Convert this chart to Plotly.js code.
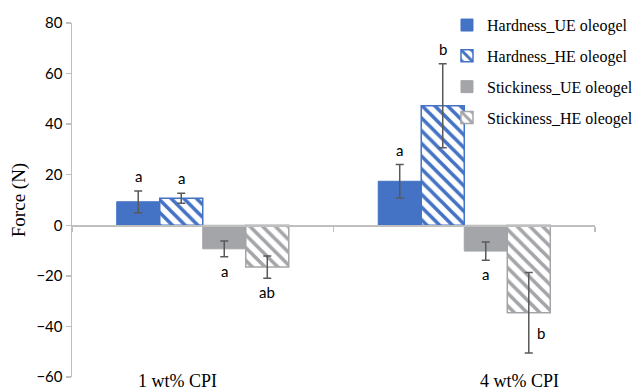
<!DOCTYPE html>
<html>
<head>
<meta charset="utf-8">
<script src="https://cdn.plot.ly/plotly-3.0.1.min.js"></script>
<style>html,body{margin:0;padding:0;background:#fff}#chart{width:638px;height:392px}</style>
</head>
<body>
<div id="chart"></div>
<script>
var categories = ["1 wt% CPI", "4 wt% CPI"];
var seriesNames = ["Hardness_UE oleogel", "Hardness_HE oleogel", "Stickiness_UE oleogel", "Stickiness_HE oleogel"];
var hardnessUE = [9.3, 17.4];
var hardnessUEErr = [4.3, 6.6];
var hardnessHE = [10.7, 47.3];
var hardnessHEErr = [2.0, 16.6];
var stickinessUE = [-9.3, -10.2];
var stickinessUEErr = [3.1, 3.6];
var stickinessHE = [-16.5, -34.6];
var stickinessHEErr = [4.4, 15.9];
var letters = [["a", "a"], ["a", "b"], ["a", "a"], ["ab", "b"]];
var yTickVals = [-60, -40, -20, 0, 20, 40, 60, 80];

var values = [hardnessUE, hardnessHE, stickinessUE, stickinessHE];
var errs = [hardnessUEErr, hardnessHEErr, stickinessUEErr, stickinessHEErr];
var blue = "#4472c4", gray = "#a3a5a8", errColor = "#595959";
var styles = [
  {color: blue, line: {color: blue, width: 1}},
  {color: "#ffffff", line: {color: blue, width: 1.5}, pattern: {shape: "\\", fgcolor: blue, bgcolor: "#ffffff", size: 9, solidity: 0.4, fillmode: "replace"}},
  {color: gray, line: {color: gray, width: 1}},
  {color: "#ffffff", line: {color: gray, width: 1.5}, pattern: {shape: "\\", fgcolor: gray, bgcolor: "#ffffff", size: 9, solidity: 0.4, fillmode: "replace"}}
];

var traces = seriesNames.map(function(n, i) {
  return {
    type: "bar", name: n, x: categories, y: values[i],
    marker: styles[i], legendgroup: "g" + i,
    error_y: {type: "data", array: errs[i], visible: true, color: errColor, thickness: 1.5, width: 4}
  };
});

var nS = seriesNames.length;
var bargap = 0.342;
var annotations = [];
seriesNames.forEach(function(n, i) {
  categories.forEach(function(c, j) {
    var v = values[i][j], e = errs[i][j];
    var off = (i - (nS - 1) / 2) * (1 - bargap) / nS;
    var pos = v >= 0;
    var side = (i === 3 && j === 1);
    annotations.push({
      xref: "x", yref: "y", x: j + off, y: side ? v - e * 0.5 : (pos ? v + e : v - e),
      text: letters[i][j], showarrow: false,
      xshift: side ? 12 : 0,
      yanchor: side ? "middle" : (pos ? "bottom" : "top"),
      yshift: side ? 0 : (pos ? 4 : -3),
      font: {family: "Lato, 'Liberation Sans', sans-serif", size: 15, color: "#000"}
    });
  });
});
var labelShift = [-25, 55];
categories.forEach(function(c, j) {
  annotations.push({
    xref: "x", yref: "paper", x: j, y: -15 / 354, yanchor: "bottom", yshift: 0, borderpad: 0,
    xshift: labelShift[j], text: c, showarrow: false,
    font: {family: "'Liberation Serif', serif", size: 18, color: "#000"}
  });
});

var layout = {
  width: 638, height: 392,
  margin: {l: 72, r: 43, t: 23, b: 15, autoexpand: false},
  paper_bgcolor: "#fff", plot_bgcolor: "#fff",
  barmode: "group", bargap: bargap, bargroupgap: 0,
  showlegend: true,
  legend: {x: 0.717, y: 1.042, xanchor: "left", yanchor: "top", bgcolor: "rgba(0,0,0,0)",
    traceorder: "grouped", tracegroupgap: 7, itemwidth: 30,
    font: {family: "'Liberation Serif', serif", size: 16, color: "#000"}},
  xaxis: {type: "category", anchor: "free", position: 60 / 140, showline: true, linecolor: "#bfbfbf", linewidth: 1.5,
    ticks: "outside", tickson: "boundaries", ticklen: 5, tickcolor: "#bfbfbf", tickwidth: 1.5,
    showticklabels: false, showgrid: false, zeroline: false, range: [-0.5, 1.5], automargin: false},
  yaxis: {range: [-60, 80], tickvals: yTickVals, showgrid: false, zeroline: false, automargin: false,
    showline: true, linecolor: "#bfbfbf", linewidth: 1.5, ticks: "outside", ticklen: 5, tickcolor: "#bfbfbf", tickwidth: 1.5,
    tickfont: {family: "Lato, 'Liberation Sans', sans-serif", size: 15, color: "#000"},
    title: {text: "Force (N)", standoff: 5, font: {family: "'Liberation Serif', serif", size: 19, color: "#000"}}},
  annotations: annotations
};
Plotly.newPlot("chart", traces, layout, {displayModeBar: false, staticPlot: true});
</script>
</body>
</html>
